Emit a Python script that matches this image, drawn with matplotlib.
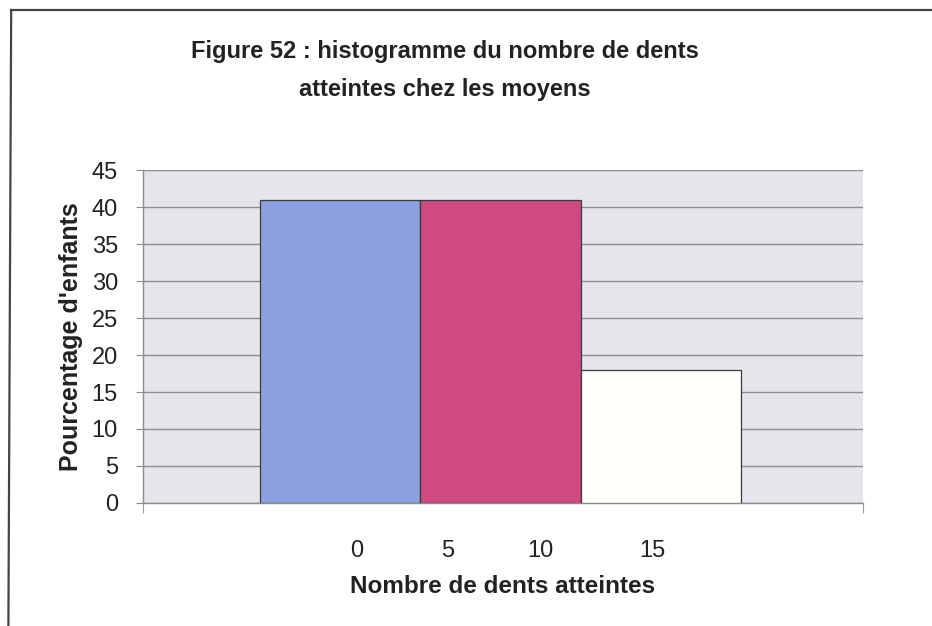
"""Recreate Figure 52: histogram of affected teeth (moyens)."""

import matplotlib

matplotlib.use("Agg")
import matplotlib.pyplot as plt
from matplotlib.lines import Line2D

plt.rcParams["font.family"] = ["Liberation Sans", "DejaVu Sans"]

# data
bin_labels = ["0", "5", "10", "15"]
percent_children = [41, 41, 18]
bar_colors = ["#8CA1DD", "#CF4A83", "#FFFFFC"]
y_ticks = [0, 5, 10, 15, 20, 25, 30, 35, 40, 45]

TITLE = "Figure 52 : histogramme du nombre de dents\natteintes chez les moyens"
XLABEL = "Nombre de dents atteintes"
YLABEL = "Pourcentage d'enfants"

# Excel placed the bin labels off the bar edges; offsets in bar widths
LABEL_OFFSETS = [0.60, 1.17, 1.75, 2.45]

fig = plt.figure(figsize=(9.32, 6.26), dpi=100)
fig.patch.set_facecolor("white")
ax = fig.add_axes([0.1534, 0.1965, 0.7725, 0.5319])
ax.set_facecolor("#E5E6EB")

positions = list(range(len(percent_children)))
ax.bar(
    positions,
    percent_children,
    width=1.0,
    align="edge",
    color=bar_colors,
    edgecolor="#3A3A3A",
    linewidth=0.9,
    zorder=3,
)

ax.set_xlim(-0.733, 3.764)
ax.set_ylim(0, 45)
ax.set_yticks(y_ticks)
ax.yaxis.grid(True, color="#8C8C8C", linewidth=1.0, zorder=1)
ax.set_axisbelow(True)

ax.set_xticks(LABEL_OFFSETS)
ax.set_xticklabels(bin_labels)
ax.set_xticks([-0.733, 3.764], minor=True)
ax.tick_params(axis="x", which="major", length=0, pad=27, labelsize=17, colors="#222222")
ax.tick_params(axis="x", which="minor", length=7, color="#9A9A9A", width=0.8)
ax.tick_params(axis="y", length=5, color="#8C8C8C", pad=13, labelsize=17, labelcolor="#222222")

for side in ("top", "right"):
    ax.spines[side].set_visible(False)
for side in ("left", "bottom"):
    ax.spines[side].set_color("#8C8C8C")
    ax.spines[side].set_linewidth(1.0)

ax.set_xlabel(XLABEL, fontsize=17.5, fontweight="bold", labelpad=9, color="#222222")
ax.set_ylabel(YLABEL, fontsize=18, fontweight="bold", labelpad=6, color="#222222")

fig.text(
    0.4775,
    0.887,
    TITLE,
    ha="center",
    va="center",
    fontsize=17,
    fontweight="bold",
    linespacing=1.85,
    color="#222222",
)

# outer frame of the scanned chart (only top and left edges visible)
fig.add_artist(Line2D([0.012, 1.0], [0.984, 0.984], transform=fig.transFigure, color="#444444", linewidth=1.6))
fig.add_artist(Line2D([0.012, 0.009], [0.984, 0.0], transform=fig.transFigure, color="#444444", linewidth=1.6))

fig.savefig("out.png", dpi=100)
